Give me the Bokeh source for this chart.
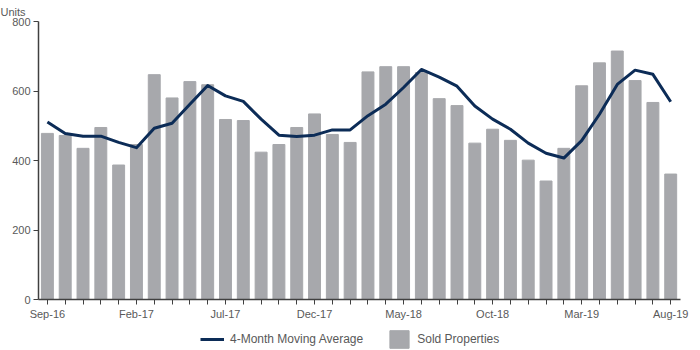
from bokeh.plotting import figure
from bokeh.models import ColumnDataSource, Legend, LegendItem, FixedTicker, Range1d
from bokeh.layouts import column
from bokeh.embed import file_html
from bokeh.resources import INLINE

months = ["Sep-16","Oct-16","Nov-16","Dec-16","Jan-17","Feb-17","Mar-17","Apr-17","May-17","Jun-17",
          "Jul-17","Aug-17","Sep-17","Oct-17","Nov-17","Dec-17","Jan-18","Feb-18","Mar-18","Apr-18",
          "May-18","Jun-18","Jul-18","Aug-18","Sep-18","Oct-18","Nov-18","Dec-18","Jan-19","Feb-19",
          "Mar-19","Apr-19","May-19","Jun-19","Jul-19","Aug-19"]
sold = [478, 472, 435, 495, 387, 446, 647, 580, 627, 618,
        518, 515, 424, 446, 495, 534, 475, 452, 655, 670,
        670, 653, 578, 558, 450, 490, 458, 401, 341, 435,
        615, 681, 715, 630, 567, 361]
moving_avg = [511, 478, 470, 470, 452, 437, 493, 507, 562, 616,
              586, 570, 519, 473, 469, 473, 488, 488, 529, 562,
              610, 662, 640, 614, 557, 519, 490, 450, 421, 407,
              457, 533, 619, 660, 648, 569]
label_every = 5
y_ticks = [0, 200, 400, 600, 800]
series_names = ["4-Month Moving Average", "Sold Properties"]

bar_color = "#A7A8AC"
line_color = "#0C2C57"
font = "Liberation Sans"
tc = "#595959"

idx = list(range(len(months)))
src = ColumnDataSource(dict(x=idx, sold=sold, ma=moving_avg, m=months))

p = figure(width=700, height=322, output_backend="svg", toolbar_location=None,
           x_range=Range1d(-0.5, len(months) - 0.45), y_range=Range1d(0, 800),
           min_border_left=38, min_border_right=20, min_border_top=20, min_border_bottom=22)
p.outline_line_color = None
p.background_fill_color = "white"
p.border_fill_color = "white"
p.grid.visible = False

p.vbar(x="x", top="sold", width=0.67, source=src, color=bar_color)
p.line(x="x", y="ma", source=src, line_color=line_color, line_width=3, line_join="round")

p.yaxis.ticker = FixedTicker(ticks=y_ticks)
p.yaxis.minor_tick_line_color = None
p.yaxis.major_tick_in = 0
p.yaxis.major_tick_out = 5
p.xaxis.ticker = FixedTicker(ticks=idx)
p.xaxis.major_label_overrides = {i: (months[i] if i % label_every == 0 else "") for i in idx}
p.xaxis.minor_tick_line_color = None
p.xaxis.major_tick_in = 0
p.xaxis.major_tick_out = 5
for ax in (p.xaxis, p.yaxis):
    ax.axis_line_color = "#404040"
    ax.axis_line_width = 1.5
    ax.major_tick_line_color = "#404040"
    ax.major_label_text_font = font
    ax.major_label_text_font_size = "11px"
    ax.major_label_text_color = tc
    ax.major_label_standoff = 3

p.title.text = "Units"
p.title.align = "left"
p.title.offset = -38
p.title.standoff = 7
p.title.text_font = font
p.title.text_font_size = "11px"
p.title.text_font_style = "normal"
p.title.text_color = tc

# legend strip below the chart
lg = figure(width=700, height=28, output_backend="svg", toolbar_location=None,
            x_range=Range1d(0, 1), y_range=Range1d(0, 1),
            min_border_left=0, min_border_right=0, min_border_top=0, min_border_bottom=0)
lg.axis.visible = False
lg.grid.visible = False
lg.outline_line_color = None
hidden = ColumnDataSource(dict(x=[-10], y=[-10]))
r_line = lg.line(x="x", y="y", source=hidden, line_color=line_color, line_width=3)
r_bar = lg.vbar(x="x", top="y", width=0.5, source=hidden, color=bar_color)
legend = Legend(items=[LegendItem(label=series_names[0], renderers=[r_line]),
                       LegendItem(label=series_names[1], renderers=[r_bar])],
                orientation="horizontal", location=(162, 0),
                border_line_color=None, background_fill_alpha=0,
                label_text_font=font, label_text_font_size="12px", label_text_color=tc,
                glyph_width=24, glyph_height=22, label_height=22, spacing=24, label_standoff=6,
                padding=0, margin=0)
lg.add_layout(legend, "center")

open("out.html", "w").write(file_html(column(p, lg, spacing=0), INLINE))
